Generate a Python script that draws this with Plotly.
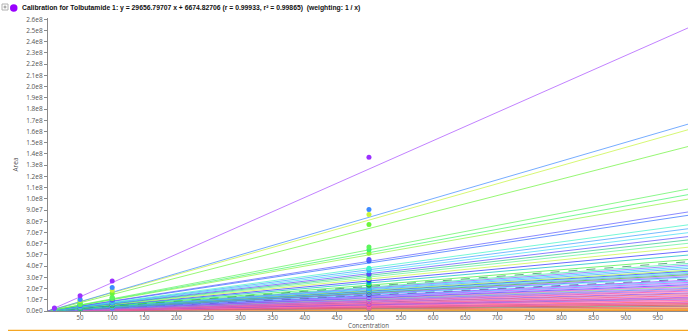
import math
import plotly.graph_objects as go

# Calibration lines: fitted response (area, millions) at concentration 1000
end_area_m = [253, 167, 162, 147, 109, 104, 100, 88.5, 85.5, 77,
              73.5, 70, 66.5, 63.5, 60.5, 57, 53.5, 50, 46, 44,
              42.5, 41, 39.5, 38, 36.5, 35.5, 34.5, 33.5, 32.5, 31.5,
              30.5, 29.5, 28.5, 27.5, 26.5, 25.5, 24.5, 23.5, 22.5, 21.8,
              21.0, 20.2, 19.4, 18.6, 17.8, 17.0, 16.2, 15.4, 14.6, 13.8,
              13.0, 12.3, 11.6, 10.9, 10.2, 9.6, 9.0, 8.4, 7.8, 7.2,
              6.7, 6.2, 5.7, 5.2, 4.7, 4.2, 3.8, 3.4, 3.0, 2.6,
              2.2, 1.9, 1.6, 1.3, 1.0, 0.8, 0.6, 0.4, 0.25, 0.1]

line_colors = ["#9b30ff", "#3d8bff", "#c6f53a", "#6cf53a", "#5cf55c", "#3cf56c", "#8cf53c", "#5a5aff", "#2f6bff", "#3cf5c8",
               "#3ca0ff", "#3cdcf5", "#5a4bff", "#2cc98a", "#5cf590", "#c8f53c", "#2c2cff", "#00bfbf", "#3cf53c", "#2a7f5a",
               "#3cf5a0", "#7a5cff", "#20d0ff", "#3c9cff", "#9cf53c", "#1f3cff", "#3cf5e0", "#6c8cff", "#2cb82c", "#b06cff",
               "#3c6cff", "#5cf5f5", "#3a3a8a", "#8c3cff", "#3cc0ff", "#c03cff", "#9c9cff", "#3c3cff", "#f53cf5", "#6cf56c",
               "#d06cff", "#3c8cff", "#ff6ca8", "#8c6cff", "#ff3c9c", "#ff9cc8", "#7c3cf5", "#ff5c5c", "#c08cff", "#ff3c6c",
               "#ff8cb0", "#a03cf5", "#ff4c8c", "#5c5cff", "#ff7c9c", "#f53cc0", "#ffb0d0", "#ff3c3c", "#c85cf0", "#ff6c6c",
               "#e03c9c", "#ff9c9c", "#d02c6c", "#ff5c3c", "#3cf5c0", "#e0207c", "#ff8c3c", "#ffc0c0", "#c8c83c", "#ff3c8c",
               "#ffb43c", "#e8e83c", "#ff7c3c", "#b8b84c", "#ff9c2c", "#ffd23c", "#ff3c3c", "#d0a030", "#ffa500", "#c8c800"]

dashed_lines = [19, 32]

# Measured calibrator areas (millions) at each concentration level
area_500_m = [137, 90.5, 86, 77, 57, 54.5, 51.5, 46, 44.5, 38,
              37, 36, 33, 32.5, 30, 29, 27.5, 25.5, 24, 23,
              22, 21.5, 20.5, 19.5, 19, 18.5, 18, 17.5, 17, 16.5,
              16, 15.5, 15, 14.5, 14, 13.5, 12.8, 12.3, 11.8, 11.4,
              11, 10.6, 10.2, 9.8, 9.3, 8.9, 8.5, 8.1, 7.7, 7.2,
              6.8, 6.4, 6.1, 5.7, 5.3, 5.0, 4.7, 4.4, 4.1, 3.8,
              3.5, 3.2, 3.0, 2.7, 2.5, 2.2, 2.0, 1.8, 1.6, 1.4,
              1.2, 1.0, 0.85, 0.7, 0.55, 0.45, 0.32, 0.22, 0.14, 0.06]
area_100_m = [26.7, 20.9, 18.5, 15.8, 12.2, 11.6, 11.2, 9.9, 9.5, 8.6,
              8.1, 7.8, 7.3, 7.0, 6.7, 6.3, 5.9, 5.5, 5.1, 4.8,
              4.7, 4.5, 4.3, 4.2, 4.0, 3.9, 3.8, 3.7, 3.6, 3.5,
              3.4, 3.2, 3.1, 3.0, 2.9, 2.8, 2.7, 2.6, 2.5, 2.4,
              2.3, 2.2, 2.1, 2.05, 1.95, 1.85, 1.8, 1.7, 1.6, 1.5,
              1.45, 1.35, 1.3, 1.2, 1.1, 1.05, 1.0, 0.92, 0.86, 0.8,
              0.74, 0.68, 0.63, 0.57, 0.52, 0.46, 0.42, 0.37, 0.33, 0.29,
              0.24, 0.21, 0.18, 0.14, 0.11, 0.09, 0.07, 0.05, 0.03, 0.01]
area_50_m = [13.6, 10.2, 9.3, 8.4, 6.3, 6.0, 5.8, 5.1, 4.9, 4.4,
             4.2, 4.0, 3.8, 3.6, 3.5, 3.3, 3.1, 2.9, 2.6, 2.5,
             2.4, 2.35, 2.25, 2.2, 2.1, 2.0, 1.95, 1.9, 1.85, 1.8,
             1.75, 1.7, 1.6, 1.55, 1.5, 1.45, 1.4, 1.35, 1.3, 1.25,
             1.2, 1.15, 1.1, 1.05, 1.0, 0.97, 0.92, 0.88, 0.83, 0.79,
             0.74, 0.7, 0.66, 0.62, 0.58, 0.55, 0.51, 0.48, 0.44, 0.41,
             0.38, 0.35, 0.32, 0.3, 0.27, 0.24, 0.22, 0.19, 0.17, 0.15,
             0.13, 0.11, 0.09, 0.07, 0.06, 0.05, 0.04, 0.03, 0.02, 0.01]
area_10_m = [2.7, 2.0, 1.9, 1.7, 1.3, 1.25, 1.2, 1.05, 1.0, 0.9]

x_ticks = list(range(50, 1000, 50))
y_ticks = [i * 1e7 for i in range(0, 27)]

title_text = ("Calibration for Tolbutamide 1: y = 29656.79707 x + 6674.82706 "
              "(r = 0.99933, r\u00b2 = 0.99865)  (weighting: 1 / x)")
x_title = "Concentration"
y_title = "Area"

M = 1e6
X_MAX = 997
Y_MAX = 2.611e8
W, H = 688, 331
ML, MR, MT, MB = 48, 0, 18, 20
PW, PH = W - ML - MR, H - MT - MB


def sci_label(v):
    if v == 0:
        return "0.0e0"
    e = int(math.floor(math.log10(v) + 1e-9))
    return f"{v / 10 ** e:.1f}e{e}"


def px_x(p):
    return (p - ML) / PW


def px_y(p):
    return (H - MB - p) / PH


fig = go.Figure()

# fitted calibration lines, drawn low-response first
for i in reversed(range(len(end_area_m))):
    fig.add_trace(go.Scatter(
        x=[0, 1000], y=[0, end_area_m[i] * M], mode="lines",
        line=dict(color=line_colors[i], width=1,
                  dash="dash" if i in dashed_lines else "solid"),
        opacity=0.6 if i == 0 else 0.7, hoverinfo="skip", showlegend=False))

# calibrator points
px, py, pc = [], [], []
for conc, vals in ((500, area_500_m), (100, area_100_m), (50, area_50_m), (10, area_10_m)):
    for i in reversed(range(len(vals))):
        px.append(conc)
        py.append(vals[i] * M)
        pc.append(line_colors[i])
fig.add_trace(go.Scatter(x=px, y=py, mode="markers",
                         marker=dict(color=pc, size=5, line=dict(width=0)),
                         hoverinfo="skip", showlegend=False))

axis_font = dict(family="Open Sans, Liberation Sans, sans-serif", size=6.5, color="#555555")
xtick_font = dict(family="Open Sans, Liberation Sans, sans-serif", size=6.2, color="#555555")

fig.update_layout(
    width=W, height=H, autosize=False,
    margin=dict(l=ML, r=MR, t=MT, b=MB, pad=0),
    paper_bgcolor="white", plot_bgcolor="white",
    showlegend=False,
    xaxis=dict(range=[0, X_MAX], tickvals=x_ticks, ticktext=[str(t) for t in x_ticks],
               ticks="outside", ticklen=3, tickcolor="#8a8a8a", tickwidth=1,
               ticklabelstandoff=-2,
               showline=True, linecolor="#8a8a8a", linewidth=1,
               showgrid=False, zeroline=False, tickfont=xtick_font),
    yaxis=dict(range=[0, Y_MAX], tickvals=y_ticks, ticktext=[sci_label(v) for v in y_ticks],
               ticks="outside", ticklen=3, tickcolor="#8a8a8a", tickwidth=1,
               showline=True, linecolor="#8a8a8a", linewidth=1,
               showgrid=False, zeroline=False, tickfont=axis_font),
)

# axis titles
fig.add_annotation(text=x_title, xref="paper", yref="paper",
                   x=0.5, y=px_y(331), xanchor="center", yanchor="bottom",
                   showarrow=False, borderpad=0, font=xtick_font)
fig.add_annotation(text=y_title, xref="paper", yref="paper",
                   x=px_x(15), y=0.5, xanchor="center", yanchor="middle",
                   textangle=-90, showarrow=False, font=axis_font)

# header: expand box, series marker, caption
fig.add_shape(type="rect", xref="paper", yref="paper",
              x0=px_x(2), x1=px_x(8), y0=px_y(10), y1=px_y(4),
              line=dict(color="#b0b0b0", width=1), fillcolor="white")
fig.add_shape(type="line", xref="paper", yref="paper",
              x0=px_x(3.5), x1=px_x(6.5), y0=px_y(7), y1=px_y(7),
              line=dict(color="#909090", width=1))
fig.add_shape(type="line", xref="paper", yref="paper",
              x0=px_x(5), x1=px_x(5), y0=px_y(8.5), y1=px_y(5.5),
              line=dict(color="#909090", width=1))
fig.add_shape(type="circle", xref="paper", yref="paper",
              x0=px_x(10), x1=px_x(17.5), y0=px_y(11.8), y1=px_y(4.3),
              line=dict(color="#9900ff", width=0), fillcolor="#9900ff")
fig.add_annotation(text=title_text, xref="paper", yref="paper",
                   x=px_x(20), y=px_y(8), xanchor="left", yanchor="middle",
                   showarrow=False,
                   font=dict(family="Liberation Sans Narrow, Liberation Sans, sans-serif",
                             size=6.8, color="#111111", weight="bold"))

# orange footer rule
fig.add_shape(type="line", xref="paper", yref="paper",
              x0=px_x(8), x1=1, y0=px_y(330.5), y1=px_y(330.5),
              line=dict(color="#f5a623", width=1.5))

fig.write_html("out.html")
